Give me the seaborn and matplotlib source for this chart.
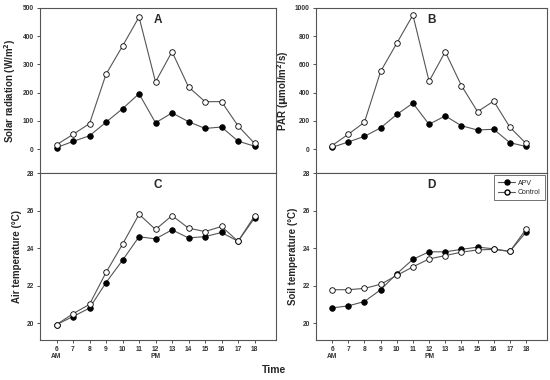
import numpy as np
import pandas as pd
import matplotlib
matplotlib.use("Agg")
import matplotlib.pyplot as plt
import seaborn as sns

hours = [6, 7, 8, 9, 10, 11, 12, 13, 14, 15, 16, 17, 18]
hour_labels = ["6\nAM", "7", "8", "9", "10", "11", "12\nPM", "13", "14", "15", "16", "17", "18"]

solar_apv = [5, 27, 47, 95, 143, 196, 93, 128, 97, 73, 78, 28, 10]
solar_control = [15, 52, 90, 265, 365, 468, 238, 345, 220, 168, 168, 82, 20]

par_apv = [12, 50, 90, 150, 245, 325, 175, 235, 165, 135, 140, 45, 18]
par_control = [25, 105, 190, 550, 750, 950, 480, 690, 450, 265, 340, 155, 40]

air_apv = [19.92, 20.35, 20.8, 22.16, 23.35, 24.6, 24.49, 24.97, 24.54, 24.61, 24.83, 24.36, 25.6]
air_control = [19.92, 20.5, 21.0, 22.7, 24.2, 25.8, 24.99, 25.73, 25.06, 24.88, 25.15, 24.36, 25.71]

soil_apv = [20.81, 20.92, 21.15, 21.78, 22.63, 23.4, 23.8, 23.8, 23.93, 24.05, 23.96, 23.82, 24.84]
soil_control = [21.78, 21.78, 21.85, 22.07, 22.54, 23.0, 23.42, 23.6, 23.78, 23.9, 23.93, 23.82, 25.0]

series_names = ["APV", "Control"]

sns.set_style("ticks")
plt.rcParams["font.family"] = ["Liberation Sans", "DejaVu Sans"]

fig = plt.figure(figsize=(5.5, 3.8), dpi=100)
W, H = 550, 380

def make_ax(x0, y0, x1, y1):
    return fig.add_axes([x0 / W, (H - y1) / H, (x1 - x0) / W, (y1 - y0) / H])

axA = make_ax(40, 8, 276, 173)
axB = make_ax(316, 8, 547, 173)
axC = make_ax(40, 173, 276, 340)
axD = make_ax(316, 173, 547, 340)

panels = [
    (axA, solar_apv, solar_control, "A", "Solar radiation (W/m$^\\mathbf{2}$)", (-85, 500), np.arange(0, 501, 100), False),
    (axB, par_apv, par_control, "B", "PAR ($\\mathbf{\\mu}$mol/m$^\\mathbf{2}$/s)", (-170, 1000), np.arange(0, 1001, 200), False),
    (axC, air_apv, air_control, "C", "Air temperature (\u00b0C)", (19.1, 28), np.arange(20, 28.1, 2), True),
    (axD, soil_apv, soil_control, "D", "Soil temperature (\u00b0C)", (19.1, 28), np.arange(20, 28.1, 2), True),
]

for ax, apv, ctrl, letter, ylabel, ylim, yticks, bottom in panels:
    df = pd.DataFrame({"hour": hours * 2,
                       "value": list(apv) + list(ctrl),
                       "series": [series_names[0]] * len(hours) + [series_names[1]] * len(hours)})
    for name, face in zip(series_names, ["black", "white"]):
        sub = df[df["series"] == name]
        sns.lineplot(data=sub, x="hour", y="value", ax=ax, color="#555555", lw=0.8,
                     marker="o", markersize=4.0, markerfacecolor=face,
                     markeredgecolor="black", markeredgewidth=0.6,
                     label=name, legend=False, zorder=3)
    ax.set_xlim(5.0, 19.3)
    ax.set_ylim(*ylim)
    ax.set_yticks(yticks)
    ax.set_yticklabels([f"{int(t)}" for t in yticks], fontsize=4.8, fontweight="bold")
    ax.set_ylabel(ylabel, fontsize=7, fontweight="bold", labelpad=3)
    ax.set_xlabel("")
    if bottom:
        ax.set_xticks(hours)
        ax.set_xticklabels(hour_labels, fontsize=4.8, fontweight="bold", linespacing=0.9)
    else:
        ax.set_xticks([])
    for s in ax.spines.values():
        s.set_linewidth(0.8)
        s.set_color("#555555")
        s.set_visible(True)
    ax.tick_params(length=2.5, width=0.6, pad=2, colors="#333333")
    ax.text(0.5, 0.965, letter, transform=ax.transAxes, ha="center", va="top",
            fontsize=8.5, fontweight="bold")

handles = [
    plt.Line2D([], [], color="#555555", lw=0.8, marker="o", markersize=3.6, markerfacecolor="black", markeredgecolor="black"),
    plt.Line2D([], [], color="#555555", lw=0.8, marker="o", markersize=3.6, markerfacecolor="white", markeredgecolor="black"),
]
leg = axD.legend(handles, series_names, loc="upper right", fontsize=5.0, frameon=True,
                 fancybox=False, handlelength=2.4, borderpad=0.6, labelspacing=0.35,
                 borderaxespad=0.35, handletextpad=0.4)
leg.get_frame().set_edgecolor("#333333")
leg.get_frame().set_linewidth(0.6)

fig.text(274 / W, 1 - 370 / H, "Time", ha="center", va="center", fontsize=7.5, fontweight="bold")

fig.savefig("out.png", dpi=100)
